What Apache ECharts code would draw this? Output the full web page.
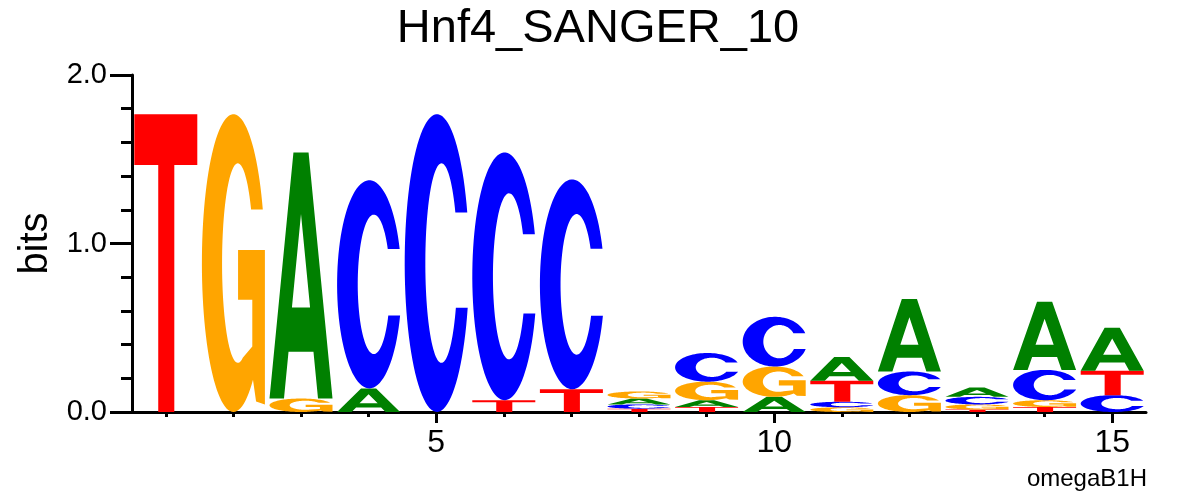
<!DOCTYPE html>
<html><head><meta charset="utf-8">
<script src="https://cdn.jsdelivr.net/npm/echarts@6/dist/echarts.min.js"></script>
<style>html,body{margin:0;padding:0;background:#fff}#c{width:1196px;height:496px}</style>
</head><body><div id="c"></div>
<script>
// ---- data (bits per letter at each position) ----
const positions = [1,2,3,4,5,6,7,8,9,10,11,12,13,14,15];
const bitsA = [0, 0, 1.46, 0.14, 0, 0, 0, 0.035, 0.04, 0.09, 0.14, 0.43, 0.055, 0.405, 0.255];
const bitsC = [0, 0, 0, 1.235, 1.767, 1.47, 1.245, 0.025, 0.17, 0.295, 0.033, 0.14, 0.045, 0.18, 0.1];
const bitsG = [0, 1.767, 0.08, 0, 0, 0, 0, 0.042, 0.11, 0.18, 0.028, 0.1, 0.03, 0.04, 0];
const bitsT = [1.767, 0, 0, 0, 0, 0.07, 0.135, 0.02, 0.03, 0, 0.125, 0, 0.015, 0.03, 0.145];
const xTickLabels = [5, 10, 15];
const letters = ['A', 'C', 'G', 'T'];
const letterColors = ['#008000', '#0000FF', '#FFA500', '#FF0000'];

// ---- glyph outlines (unit box) ----
function arc(cx, cy, rx, ry, t0, t1, n) {
  const pts = [];
  for (let i = 0; i <= n; i++) {
    const t = t0 + (t1 - t0) * i / n;
    pts.push([cx + rx * Math.cos(t), cy + ry * Math.sin(t)]);
  }
  return pts;
}
function normalize(subpaths) {
  let x0 = Infinity, y0 = Infinity, x1 = -Infinity, y1 = -Infinity;
  subpaths.forEach(sp => sp.forEach(p => {
    x0 = Math.min(x0, p[0]); x1 = Math.max(x1, p[0]);
    y0 = Math.min(y0, p[1]); y1 = Math.max(y1, p[1]);
  }));
  return subpaths.map(sp => sp.map(p => [(p[0] - x0) / (x1 - x0), (p[1] - y0) / (y1 - y0)]));
}
const glyphA = normalize([
  [[0,1],[0.38,0],[0.62,0],[1,1],[0.77,1],[0.698,0.81],[0.302,0.81],[0.23,1]],
  [[0.5,0.25],[0.356,0.63],[0.644,0.63]]
]);
const glyphT = normalize([
  [[0,0],[1,0],[1,0.17],[0.635,0.17],[0.635,1],[0.38,1],[0.38,0.17],[0,0.17]]
]);
const glyphC = normalize([
  arc(0.5, 0.5, 0.5, 0.5, -0.347, 0.305 - 2 * Math.PI, 90)
    .concat(arc(0.57, 0.5, 0.25, 0.335, 0.465, 2 * Math.PI - 0.532, 90))
]);
const glyphG = normalize([
  arc(0.5, 0.5, 0.5, 0.5, -0.368, 0.9 - 2 * Math.PI, 90)
    .concat([[0.86,0.965],[1,0.975],[1,0.456],[0.574,0.456],[0.574,0.623],[0.8,0.623],[0.8,0.78]])
    .concat(arc(0.57, 0.5, 0.25, 0.335, 1.25, 2 * Math.PI - 0.567, 80))
]);
const glyphs = [glyphA, glyphC, glyphG, glyphT];

// ---- stacked letter items ----
const letterBits = [bitsA, bitsC, bitsG, bitsT];
const stackData = [];
positions.forEach((pos, i) => {
  const items = letters.map((l, li) => ({ li, h: letterBits[li][i] })).filter(d => d.h > 0);
  items.sort((a, b) => a.h - b.h);
  let base = 0;
  items.forEach(d => {
    stackData.push([pos, base, base + d.h, d.li]);
    base += d.h;
  });
});

const halfW = 0.466;
function renderItem(params, api) {
  const x = api.value(0), y0 = api.value(1), y1 = api.value(2), li = api.value(3);
  const p0 = api.coord([x - halfW, y1]);
  const p1 = api.coord([x + halfW, y0]);
  const L = p0[0], T = p0[1], W = p1[0] - p0[0], H = p1[1] - p0[1];
  const d = glyphs[li].map(sp => 'M' + sp.map(p => (L + p[0] * W).toFixed(2) + ' ' + (T + p[1] * H).toFixed(2)).join(' L') + ' Z').join(' ');
  return { type: 'path', shape: { pathData: d }, style: { fill: letterColors[li] } };
}

const FONT = 'Liberation Sans';
const chart = echarts.init(document.getElementById('c'), null, { renderer: 'canvas' });
chart.setOption({
  animation: false,
  backgroundColor: '#fff',
  title: [
    { text: 'Hnf4_SANGER_10', left: 'center', top: 6, padding: 0,
      textStyle: { fontFamily: FONT, fontSize: 47, fontWeight: 'normal', color: '#000' } },
    { text: 'omegaB1H', right: 49, top: 467, padding: 0,
      textStyle: { fontFamily: FONT, fontSize: 24, fontWeight: 'normal', color: '#000' } }
  ],
  grid: { left: 132, right: 50, top: 75, bottom: 84, outerBoundsMode: 'none' },
  xAxis: [
    { type: 'value', min: 0.5, max: 15.5, position: 'bottom',
      axisLine: { lineStyle: { color: '#000', width: 3 } },
      axisTick: { show: true, customValues: positions, length: 5, lineStyle: { color: '#000', width: 3 } },
      axisLabel: { show: false }, splitLine: { show: false } },
    { type: 'value', min: 0.5, max: 15.5, position: 'bottom',
      axisLine: { show: false },
      axisTick: { show: true, customValues: xTickLabels, length: 11, lineStyle: { color: '#000', width: 3 } },
      axisLabel: { show: true, customValues: xTickLabels, margin: 15, fontFamily: FONT, fontSize: 32, color: '#000' },
      splitLine: { show: false } }
  ],
  yAxis: {
    type: 'value', min: 0, max: 2, interval: 1,
    name: 'bits', nameLocation: 'middle', nameGap: 76,
    nameTextStyle: { fontFamily: FONT, fontSize: 40, color: '#000' },
    axisLine: { show: true, lineStyle: { color: '#000', width: 3 } },
    axisTick: { show: true, length: 22, lineStyle: { color: '#000', width: 3 } },
    minorTick: { show: true, splitNumber: 5, length: 11, lineStyle: { color: '#000', width: 3 } },
    axisLabel: { margin: 25, fontFamily: FONT, fontSize: 29, color: '#000', formatter: v => v.toFixed(1) },
    splitLine: { show: false }, minorSplitLine: { show: false }
  },
  series: [{
    type: 'custom', name: 'logo', coordinateSystem: 'cartesian2d', xAxisIndex: 0, yAxisIndex: 0,
    renderItem: renderItem, encode: { x: 0, y: [1, 2] }, data: stackData, silent: true
  }]
});
</script></body></html>
